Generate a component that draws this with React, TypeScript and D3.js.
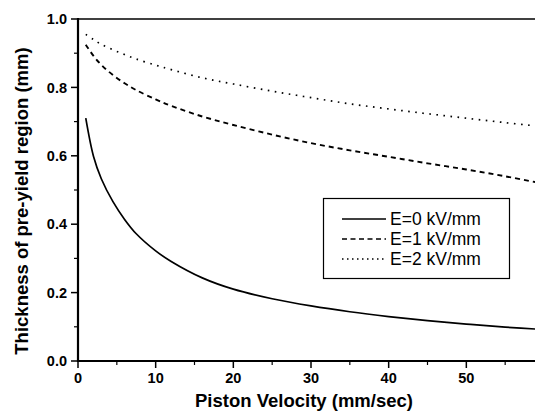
import React from "react";
import * as d3 from "d3";

const velocity = [1, 2, 3, 4.5, 6, 7.5, 10, 12, 16, 20, 25, 30, 35, 40, 45, 50, 55, 60];
const e0 = [0.71, 0.598, 0.533, 0.466, 0.414, 0.372, 0.322, 0.291, 0.243, 0.21, 0.182, 0.161, 0.144, 0.13, 0.118, 0.108, 0.099, 0.092];
const e1 = [0.925, 0.892, 0.866, 0.836, 0.812, 0.792, 0.765, 0.746, 0.715, 0.69, 0.662, 0.637, 0.616, 0.597, 0.578, 0.56, 0.54, 0.518];
const e2 = [0.955, 0.94, 0.926, 0.91, 0.896, 0.883, 0.865, 0.852, 0.828, 0.81, 0.789, 0.77, 0.752, 0.737, 0.723, 0.71, 0.697, 0.685];
const seriesNames = ["E=0 kV/mm", "E=1 kV/mm", "E=2 kV/mm"];
const xTicks = [0, 10, 20, 30, 40, 50];
const yTicks = [0, 0.2, 0.4, 0.6, 0.8, 1.0];

const W = 535, H = 412;
const FONT = "'Liberation Sans', Arial, sans-serif";

export default function App() {
  const x = d3.scaleLinear().domain([0, 60]).range([78, 544]);
  const y = d3.scaleLinear().domain([0, 1]).range([361, 19]);
  const line = d3
    .line<[number, number]>()
    .x((d) => x(d[0]))
    .y((d) => y(d[1]))
    .curve(d3.curveCatmullRom.alpha(0.5));
  const all = [e0, e1, e2];
  const styles = [
    { dash: "none", w: 1.7 },
    { dash: "5,4", w: 1.9 },
    { dash: "1.6,5.5", w: 1.7 },
  ];
  const legendDash = ["none", "5,3.5", "1.5,3.5"];
  const xMinor = d3.range(5, 60, 10);
  const yMinor = d3.range(0.1, 1, 0.2);

  return (
    <svg width={W} height={H} style={{ position: "absolute", left: 0, top: 0, background: "#fff" }}>
      <rect x={0} y={0} width={W} height={H} fill="#fff" />
      {all.map((vals, i) => (
        <path
          key={i}
          d={line(velocity.map((v, j) => [v, vals[j]]) as [number, number][]) || ""}
          fill="none"
          stroke="#000"
          strokeWidth={styles[i].w}
          strokeDasharray={styles[i].dash}
        />
      ))}
      {/* frame */}
      <line x1={78} x2={544} y1={19} y2={19} stroke="#000" strokeWidth={1.6} />
      <line x1={78} x2={78} y1={18} y2={362} stroke="#000" strokeWidth={2.2} />
      <line x1={77} x2={544} y1={361} y2={361} stroke="#000" strokeWidth={2.2} />
      {/* y ticks */}
      {yTicks.map((t) => (
        <g key={t}>
          <line x1={71} x2={78} y1={y(t)} y2={y(t)} stroke="#000" strokeWidth={1.5} />
          <text x={67} y={y(t)} dy="0.36em" textAnchor="end" fontFamily={FONT} fontWeight="bold" fontSize={14.5}>
            {t.toFixed(1)}
          </text>
        </g>
      ))}
      {yMinor.map((t) => (
        <line key={t} x1={74} x2={78} y1={y(t)} y2={y(t)} stroke="#000" strokeWidth={1.2} />
      ))}
      {/* x ticks */}
      {[...xTicks, 60].map((t) => (
        <line key={t} x1={x(t)} x2={x(t)} y1={361} y2={368} stroke="#000" strokeWidth={1.5} />
      ))}
      {xTicks.map((t) => (
        <text key={t} x={x(t)} y={383} textAnchor="middle" fontFamily={FONT} fontWeight="bold" fontSize={14.5}>
          {t}
        </text>
      ))}
      {xMinor.map((t) => (
        <line key={t} x1={x(t)} x2={x(t)} y1={361} y2={365} stroke="#000" strokeWidth={1.2} />
      ))}
      {/* axis titles */}
      <text x={304} y={407} textAnchor="middle" fontFamily={FONT} fontWeight="bold" fontSize={18.5}>
        Piston Velocity (mm/sec)
      </text>
      <text
        transform={`translate(28,${(42 + 360) / 2}) rotate(-90)`}
        textAnchor="middle"
        fontFamily={FONT}
        fontWeight="bold"
        fontSize={18.5}
      >
        Thickness of pre-yield region (mm)
      </text>
      {/* legend */}
      <rect x={323.5} y={198.5} width={186} height={80} fill="#fff" stroke="#000" strokeWidth={1.2} />
      {seriesNames.map((name, i) => {
        const cy = 219 + i * 20;
        return (
          <g key={name}>
            <line
              x1={342}
              x2={386}
              y1={cy}
              y2={cy}
              stroke="#000"
              strokeWidth={1.3}
              strokeDasharray={legendDash[i]}
            />
            <text x={390} y={cy} dy="0.36em" fontFamily={FONT} fontSize={17.5}>
              {name}
            </text>
          </g>
        );
      })}
    </svg>
  );
}
